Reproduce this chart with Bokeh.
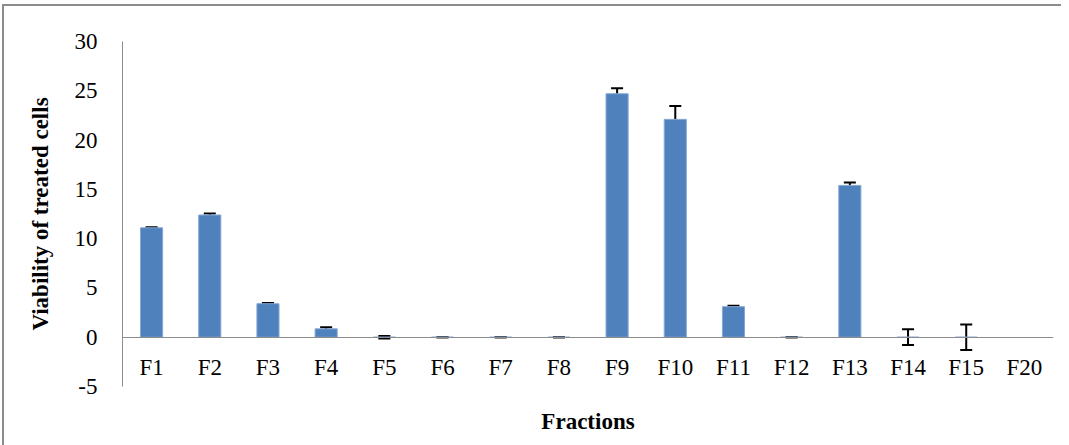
from bokeh.plotting import figure
from bokeh.models import (ColumnDataSource, Whisker, TeeHead, Title, FixedTicker,
                          PrintfTickFormatter)
from bokeh.embed import file_html
from bokeh.resources import INLINE
import math

fractions = ["F1", "F2", "F3", "F4", "F5", "F6", "F7", "F8", "F9", "F10",
             "F11", "F12", "F13", "F14", "F15", "F20"]
viability = [11.1, 12.4, 3.4, 0.85, 0.0, 0.0, 0.0, 0.0, 24.7, 22.1,
             3.1, 0.0, 15.4, 0.0, 0.0, float("nan")]
errors = [0.05, 0.15, 0.08, 0.15, 0.12, 0.0, 0.0, 0.0, 0.55, 1.35,
          0.1, 0.0, 0.3, 0.8, 1.3, float("nan")]
y_ticks = [-5, 0, 5, 10, 15, 20, 25, 30]

lower = [v - e for v, e in zip(viability, errors)]
upper = [v + e for v, e in zip(viability, errors)]

bar_src = ColumnDataSource(dict(x=fractions, top=viability))
err_src = ColumnDataSource(dict(
    x=[f for f, v in zip(fractions, viability) if not math.isnan(v)],
    lower=[l for l, v in zip(lower, viability) if not math.isnan(v)],
    upper=[u for u, v in zip(upper, viability) if not math.isnan(v)],
))

FONT = "Liberation Serif"

p = figure(x_range=fractions, y_range=(-5, 30), width=1059, height=453,
           output_backend="svg", toolbar_location=None,
           min_border_left=118, min_border_right=10,
           min_border_top=35, min_border_bottom=73)
p.margin = (4, 0, 0, 2)
p.styles = {"border-top": "2px solid #8c8c8c", "border-left": "2px solid #8c8c8c",
            "border-right": "none", "border-bottom": "none"}
p.outline_line_color = None
p.grid.visible = False

p.vbar(x="x", top="top", width=0.38, source=bar_src,
       fill_color="#4f81bd", line_color="#86a8d4", line_width=1)

w = Whisker(base="x", lower="lower", upper="upper", source=err_src,
            line_color="black", line_width=2,
            lower_head=TeeHead(size=12, line_color="black", line_width=2),
            upper_head=TeeHead(size=12, line_color="black", line_width=2))
p.add_layout(w)

# y axis
p.yaxis.ticker = FixedTicker(ticks=y_ticks)
p.yaxis.formatter = PrintfTickFormatter(format="%d")
p.yaxis.major_tick_line_color = None
p.yaxis.minor_tick_line_color = None
p.yaxis.axis_line_color = "#8c8c8c"
p.yaxis.major_label_text_font = FONT
p.yaxis.major_label_text_font_size = "23px"
p.yaxis.major_label_text_color = "black"
p.yaxis.major_label_standoff = 19
p.yaxis.axis_label = "Viability of treated cells"
p.yaxis.axis_label_text_font = FONT
p.yaxis.axis_label_text_font_style = "bold"
p.yaxis.axis_label_text_font_size = "23px"
p.yaxis.axis_label_text_color = "black"
p.yaxis.axis_label_standoff = 19

# x axis at y = 0
p.xaxis.fixed_location = 0
p.xaxis.major_tick_line_color = None
p.xaxis.minor_tick_line_color = None
p.xaxis.axis_line_color = "#8c8c8c"
p.xaxis.major_label_text_font = FONT
p.xaxis.major_label_text_font_size = "23px"
p.xaxis.major_label_text_color = "black"
p.xaxis.major_label_standoff = 12

p.add_layout(Title(text="Fractions", align="center", text_font=FONT,
                   text_font_style="bold", text_font_size="23px",
                   text_color="black", standoff=40), "below")

open("out.html", "w").write(file_html(p, INLINE))
